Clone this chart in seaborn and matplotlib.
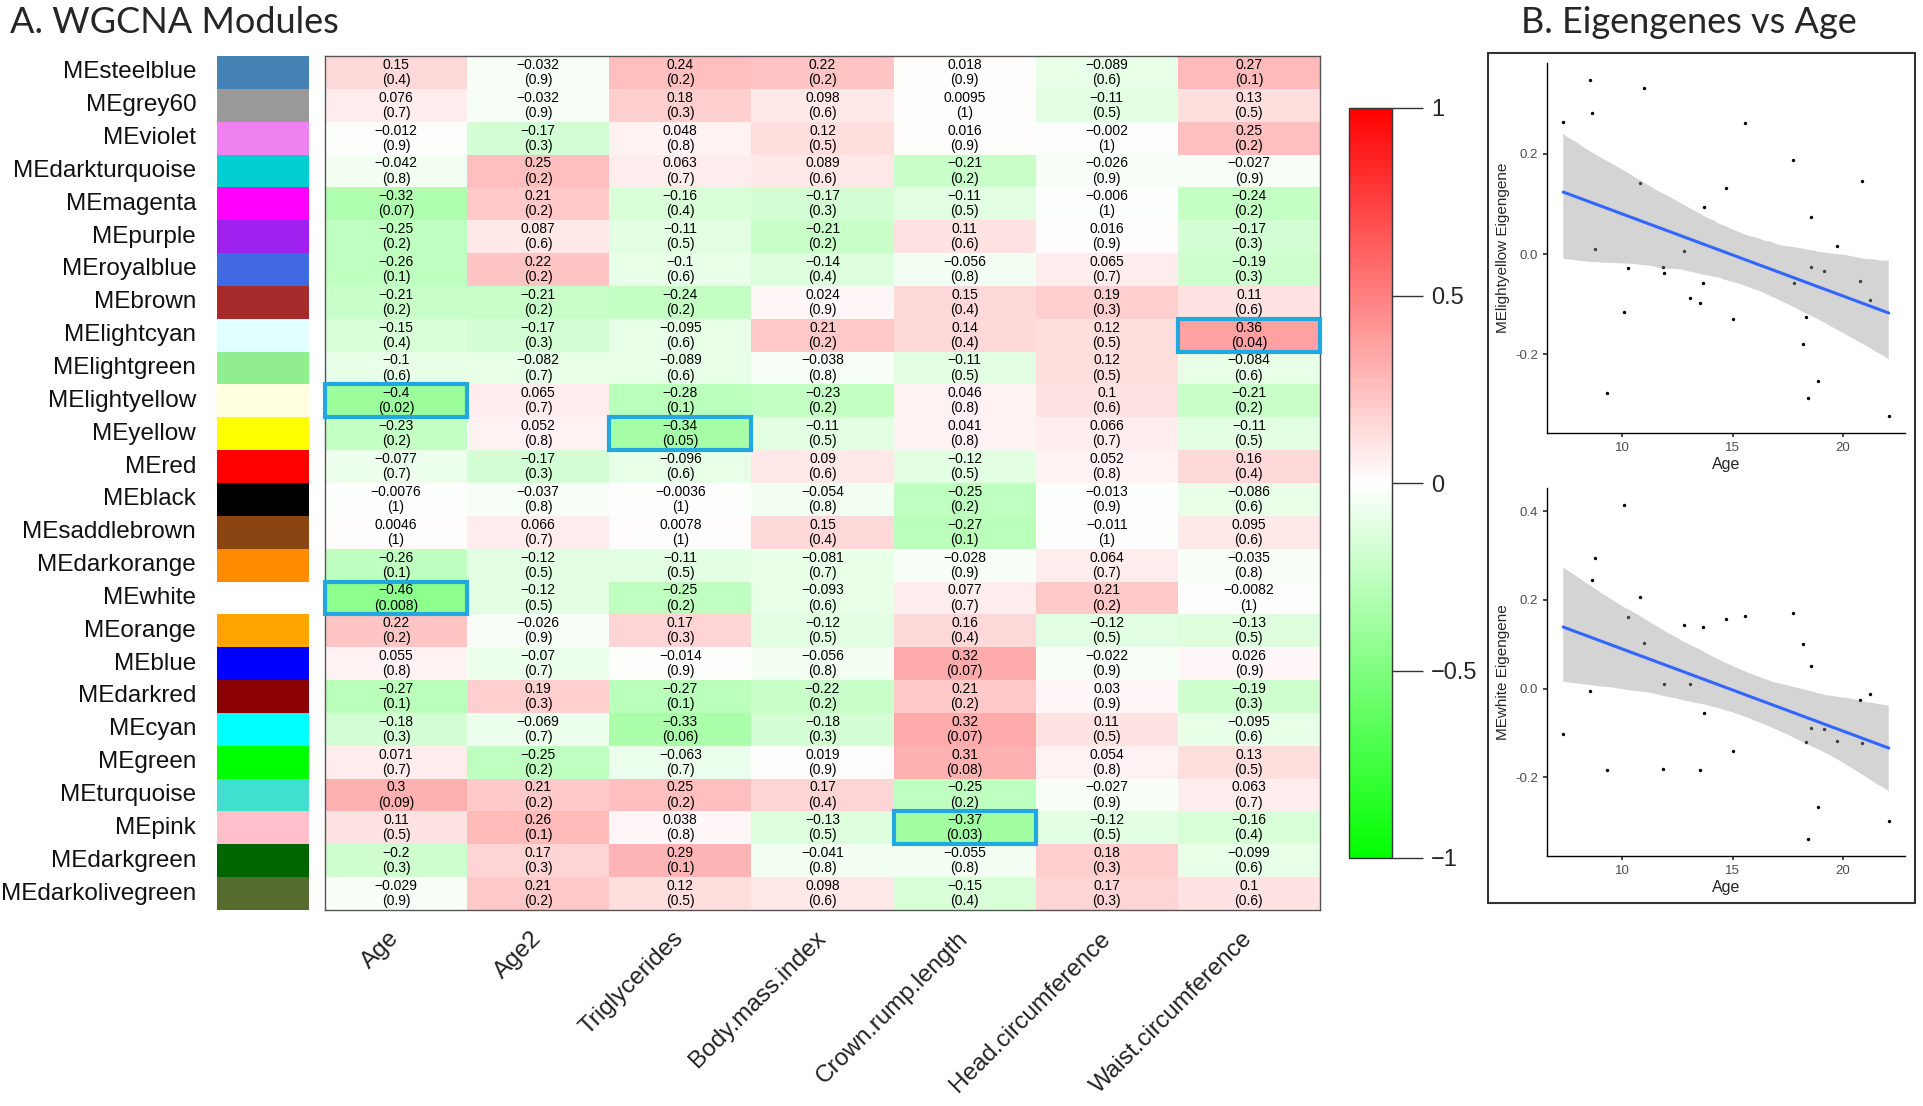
import numpy as np
import pandas as pd
import matplotlib
matplotlib.use("Agg")
import matplotlib.pyplot as plt
import seaborn as sns
from matplotlib.colors import ListedColormap
from matplotlib.patches import Rectangle
from matplotlib.collections import PolyCollection

# Data
modules = ["MEsteelblue", "MEgrey60", "MEviolet", "MEdarkturquoise", "MEmagenta", "MEpurple",
           "MEroyalblue", "MEbrown", "MElightcyan", "MElightgreen", "MElightyellow", "MEyellow",
           "MEred", "MEblack", "MEsaddlebrown", "MEdarkorange", "MEwhite", "MEorange", "MEblue",
           "MEdarkred", "MEcyan", "MEgreen", "MEturquoise", "MEpink", "MEdarkgreen", "MEdarkolivegreen"]
module_colors = ["#4682B4", "#999999", "#EE82EE", "#00CED1", "#FF00FF", "#A020F0",
                 "#4169E1", "#A52A2A", "#E0FFFF", "#90EE90", "#FFFFE0", "#FFFF00",
                 "#FF0000", "#000000", "#8B4513", "#FF8C00", "#FFFFFF", "#FFA500", "#0000FF",
                 "#8B0000", "#00FFFF", "#00FF00", "#40E0D0", "#FFC0CB", "#006400", "#556B2F"]
traits = ["Age", "Age2", "Triglycerides", "Body.mass.index", "Crown.rump.length",
          "Head.circumference", "Waist.circumference"]

cor_vals = [
    [0.15, -0.032, 0.24, 0.22, 0.018, -0.089, 0.27],
    [0.076, -0.032, 0.18, 0.098, 0.0095, -0.11, 0.13],
    [-0.012, -0.17, 0.048, 0.12, 0.016, -0.002, 0.25],
    [-0.042, 0.25, 0.063, 0.089, -0.21, -0.026, -0.027],
    [-0.32, 0.21, -0.16, -0.17, -0.11, -0.006, -0.24],
    [-0.25, 0.087, -0.11, -0.21, 0.11, 0.016, -0.17],
    [-0.26, 0.22, -0.1, -0.14, -0.056, 0.065, -0.19],
    [-0.21, -0.21, -0.24, 0.024, 0.15, 0.19, 0.11],
    [-0.15, -0.17, -0.095, 0.21, 0.14, 0.12, 0.36],
    [-0.1, -0.082, -0.089, -0.038, -0.11, 0.12, -0.084],
    [-0.4, 0.065, -0.28, -0.23, 0.046, 0.1, -0.21],
    [-0.23, 0.052, -0.34, -0.11, 0.041, 0.066, -0.11],
    [-0.077, -0.17, -0.096, 0.09, -0.12, 0.052, 0.16],
    [-0.0076, -0.037, -0.0036, -0.054, -0.25, -0.013, -0.086],
    [0.0046, 0.066, 0.0078, 0.15, -0.27, -0.011, 0.095],
    [-0.26, -0.12, -0.11, -0.081, -0.028, 0.064, -0.035],
    [-0.46, -0.12, -0.25, -0.093, 0.077, 0.21, -0.0082],
    [0.22, -0.026, 0.17, -0.12, 0.16, -0.12, -0.13],
    [0.055, -0.07, -0.014, -0.056, 0.32, -0.022, 0.026],
    [-0.27, 0.19, -0.27, -0.22, 0.21, 0.03, -0.19],
    [-0.18, -0.069, -0.33, -0.18, 0.32, 0.11, -0.095],
    [0.071, -0.25, -0.063, 0.019, 0.31, 0.054, 0.13],
    [0.3, 0.21, 0.25, 0.17, -0.25, -0.027, 0.063],
    [0.11, 0.26, 0.038, -0.13, -0.37, -0.12, -0.16],
    [-0.2, 0.17, 0.29, -0.041, -0.055, 0.18, -0.099],
    [-0.029, 0.21, 0.12, 0.098, -0.15, 0.17, 0.1],
]
p_vals = [
    [0.4, 0.9, 0.2, 0.2, 0.9, 0.6, 0.1],
    [0.7, 0.9, 0.3, 0.6, 1, 0.5, 0.5],
    [0.9, 0.3, 0.8, 0.5, 0.9, 1, 0.2],
    [0.8, 0.2, 0.7, 0.6, 0.2, 0.9, 0.9],
    [0.07, 0.2, 0.4, 0.3, 0.5, 1, 0.2],
    [0.2, 0.6, 0.5, 0.2, 0.6, 0.9, 0.3],
    [0.1, 0.2, 0.6, 0.4, 0.8, 0.7, 0.3],
    [0.2, 0.2, 0.2, 0.9, 0.4, 0.3, 0.6],
    [0.4, 0.3, 0.6, 0.2, 0.4, 0.5, 0.04],
    [0.6, 0.7, 0.6, 0.8, 0.5, 0.5, 0.6],
    [0.02, 0.7, 0.1, 0.2, 0.8, 0.6, 0.2],
    [0.2, 0.8, 0.05, 0.5, 0.8, 0.7, 0.5],
    [0.7, 0.3, 0.6, 0.6, 0.5, 0.8, 0.4],
    [1, 0.8, 1, 0.8, 0.2, 0.9, 0.6],
    [1, 0.7, 1, 0.4, 0.1, 1, 0.6],
    [0.1, 0.5, 0.5, 0.7, 0.9, 0.7, 0.8],
    [0.008, 0.5, 0.2, 0.6, 0.7, 0.2, 1],
    [0.2, 0.9, 0.3, 0.5, 0.4, 0.5, 0.5],
    [0.8, 0.7, 0.9, 0.8, 0.07, 0.9, 0.9],
    [0.1, 0.3, 0.1, 0.2, 0.2, 0.9, 0.3],
    [0.3, 0.7, 0.06, 0.3, 0.07, 0.5, 0.6],
    [0.7, 0.2, 0.7, 0.9, 0.08, 0.8, 0.5],
    [0.09, 0.2, 0.2, 0.4, 0.2, 0.9, 0.7],
    [0.5, 0.1, 0.8, 0.5, 0.03, 0.5, 0.4],
    [0.3, 0.3, 0.1, 0.8, 0.8, 0.3, 0.6],
    [0.9, 0.2, 0.5, 0.6, 0.4, 0.3, 0.6],
]
highlights = [("MElightcyan", "Waist.circumference"), ("MElightyellow", "Age"),
              ("MEyellow", "Triglycerides"), ("MEwhite", "Age"), ("MEpink", "Crown.rump.length")]

# eigengene vs age scatter data
age_ly = [7.34, 8.53, 8.63, 8.78, 9.31, 10.08, 10.26, 10.83, 10.99, 11.83, 11.91, 12.78, 13.05,
          13.52, 13.64, 13.70, 14.69, 15.02, 15.58, 17.74, 17.76, 18.17, 18.33, 18.39, 18.54,
          18.54, 18.87, 19.14, 19.74, 20.74, 20.83, 21.20, 22.06]
eig_ly = [0.263, 0.347, 0.281, 0.010, -0.277, -0.116, -0.027, 0.141, 0.331, -0.025, -0.037, 0.007,
          -0.087, -0.097, -0.057, 0.094, 0.131, -0.130, 0.261, 0.188, -0.057, -0.179, -0.125,
          -0.287, -0.025, 0.073, -0.252, -0.033, 0.016, -0.053, 0.145, -0.091, -0.323]
age_wh = [7.34, 8.53, 8.63, 8.78, 9.31, 10.08, 10.26, 10.83, 10.99, 11.83, 11.91, 12.78, 13.05,
          13.52, 13.64, 13.70, 14.69, 15.02, 15.58, 17.74, 18.17, 18.33, 18.39, 18.54, 18.54,
          18.87, 19.14, 19.74, 20.74, 20.83, 21.20, 22.06]
eig_wh = [-0.102, -0.006, 0.244, 0.295, -0.183, 0.415, 0.162, 0.207, 0.102, -0.182, 0.010, 0.144,
          0.011, -0.183, 0.140, -0.054, 0.157, -0.141, 0.163, 0.171, 0.100, -0.121, -0.340, 0.050,
          -0.088, -0.268, -0.092, -0.119, -0.026, -0.123, -0.012, -0.298]

sns.set_theme(style="white")
plt.rcParams["font.family"] = ["Liberation Sans", "DejaVu Sans"]
plt.rcParams["axes.unicode_minus"] = False

W, H = 1923, 1106
fig = plt.figure(figsize=(W / 100, H / 100), dpi=100)


def box(x0, y0, x1, y1):
    # pixel box -> figure fraction
    return [x0 / W, 1 - y1 / H, (x1 - x0) / W, (y1 - y0) / H]


def num(v):
    return "{:.2g}".format(v).replace("-", "\u2212")


# green - white - red palette
lv = np.linspace(-1, 1, 101)
lv = (lv[:-1] + lv[1:]) / 2
gwr = [(1 + v, 1, 1 + v) if v < 0 else (1, 1 - v, 1 - v) for v in lv]
cmap = ListedColormap(gwr)

cor_df = pd.DataFrame(cor_vals, index=modules, columns=traits)
annot = np.array([[num(c) + "\n(" + "{:.1g}".format(p) + ")" for c, p in zip(cr, pr)]
                  for cr, pr in zip(cor_vals, p_vals)])

ax_hm = fig.add_axes(box(325, 56, 1320, 910))
ax_cb = fig.add_axes(box(1349, 108, 1392, 858))
sns.heatmap(cor_df, ax=ax_hm, cmap=cmap, vmin=-1, vmax=1, annot=annot, fmt="",
            annot_kws=dict(fontsize=10, color="black", linespacing=1.1),
            cbar_ax=ax_cb, yticklabels=False)
for sp in ax_hm.spines.values():
    sp.set_visible(True)
    sp.set_color("#555555")
    sp.set_linewidth(1)
ax_hm.set_xticks(np.arange(len(traits)) + 0.5)
ax_hm.set_xticklabels(traits, rotation=45, ha="right", va="center", rotation_mode="anchor",
                      fontsize=17.5, color="#222222")
ax_hm.tick_params(axis="x", length=0, pad=18)
ax_hm.set_xlabel("")
ax_hm.set_ylabel("")

for mod, tr in highlights:
    ax_hm.add_patch(Rectangle((traits.index(tr), modules.index(mod)), 1, 1, fill=False,
                              ec="#22A7E0", lw=3, clip_on=False, zorder=5))

# colorbar
cbar = ax_hm.collections[0].colorbar
cbar.set_ticks([-1, -0.5, 0, 0.5, 1])
cbar.set_ticklabels(["\u22121", "\u22120.5", "0", "0.5", "1"])
cbar.ax.tick_params(length=22, width=1, labelsize=17, pad=6, color="#333333")
cbar.outline.set_linewidth(1)
cbar.outline.set_edgecolor("#333333")

# module colour strip
ax_st = fig.add_axes(box(217, 56, 309, 910))
strip = pd.DataFrame({"c": np.arange(len(modules))}, index=modules)
sns.heatmap(strip, ax=ax_st, cmap=ListedColormap(module_colors), cbar=False,
            xticklabels=False, yticklabels=modules)
ax_st.set_yticklabels(modules, rotation=0, fontsize=17.5, color="#111111")
ax_st.tick_params(axis="y", length=0, pad=15)
ax_st.set_ylabel("")

# scatter panels
panels = [(box(1547, 63, 1905, 433), age_ly, eig_ly, "MElightyellow Eigengene", [-0.2, 0.0, 0.2]),
          (box(1547, 488, 1905, 856), age_wh, eig_wh, "MEwhite Eigengene", [-0.2, 0.0, 0.2, 0.4])]
for rect, xs, ys, lab, yt in panels:
    ax = fig.add_axes(rect)
    sns.scatterplot(x=xs, y=ys, ax=ax, color="black", s=6, linewidth=0)
    sns.regplot(x=xs, y=ys, ax=ax, scatter=False, color="#3366FF", ci=95, seed=3,
                line_kws=dict(lw=2.2))
    for coll in ax.collections:
        if isinstance(coll, PolyCollection):
            coll.set_facecolor("#999999")
            coll.set_alpha(0.42)
            coll.set_edgecolor("none")
    xr = max(xs) - min(xs)
    yr = max(ys) - min(ys)
    ax.set_xlim(min(xs) - 0.05 * xr, max(xs) + 0.05 * xr)
    ax.set_ylim(min(ys) - 0.05 * yr, max(ys) + 0.05 * yr)
    ax.set_xticks([10, 15, 20])
    ax.set_yticks(yt)
    ax.set_yticklabels(["{:.1f}".format(v) for v in yt])
    sns.despine(ax=ax)
    for sp in ["left", "bottom"]:
        ax.spines[sp].set_color("black")
        ax.spines[sp].set_linewidth(1)
    ax.tick_params(labelsize=9.5, labelcolor="#4D4D4D", color="#333333", length=3,
                   direction="out", left=True, bottom=True)
    ax.set_xlabel("Age", fontsize=11.5, labelpad=2)
    ax.set_ylabel(lab, fontsize=11)

fig.add_artist(Rectangle((1488 / W, 1 - 903 / H), 427 / W, 850 / H, transform=fig.transFigure,
                         fill=False, ec="#333333", lw=1.5))

fig.text(10 / W, 1 - 6 / H, "A. WGCNA Modules", fontsize=26, va="top", family="Lato")
fig.text(1521 / W, 1 - 6 / H, "B. Eigengenes vs Age", fontsize=26, va="top", family="Lato")

fig.savefig("out.png", dpi=100)
